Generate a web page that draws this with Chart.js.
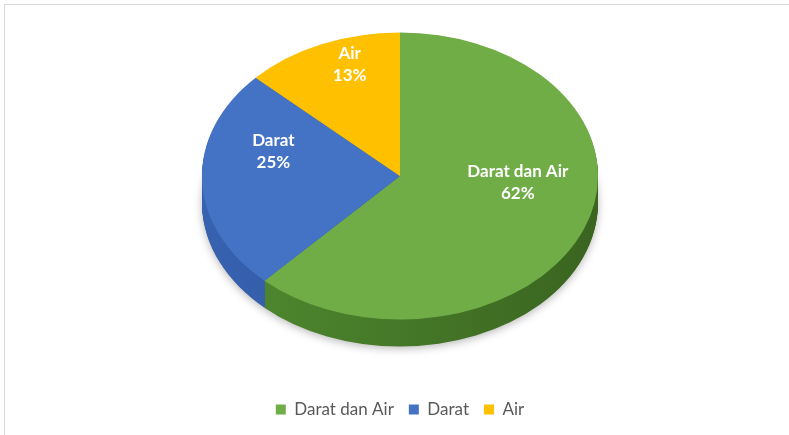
<!DOCTYPE html>
<html>
<head>
<meta charset="utf-8">
<script src="https://cdn.jsdelivr.net/npm/chart.js@4.4.0/dist/chart.umd.min.js"></script>
<style>
  html, body { margin: 0; padding: 0; background: #fff; }
  #wrap { position: relative; width: 789px; height: 435px; overflow: hidden; }
  #frame { position: absolute; left: 4px; top: 4px; right: -2px; bottom: -2px;
           border-top: 1px solid #d9d9d9; border-left: 1px solid #d9d9d9; }
  canvas { position: absolute; left: 0; top: 0; }
</style>
</head>
<body>
<div id="wrap">
  <div id="frame"></div>
  <canvas id="myChart" width="789" height="435"></canvas>
</div>
<script>
// data
const categories = ['Darat dan Air', 'Darat', 'Air'];
const shares = [62, 25, 13];

// colours
const topColors = ['#70ad47', '#4472c4', '#ffc000'];
const sideColors = [['#508c30', '#3a6420'], ['#3762b0', '#2b4f91'], ['#d9a300', '#b08400']];

// fake 3d look: squash the disc and give it some thickness
const tilt = { ratio: 0.725, centerY: 176, depth: 27 };

function tiltCtx(ctx, arc) {
    ctx.translate(arc.x, tilt.centerY);
    ctx.scale(1, tilt.ratio);
    ctx.translate(-arc.x, -arc.y);
}

const pie3d = {
    id: 'pie3d',
    beforeDatasetsDraw(chart) {
        const ctx = chart.ctx;
        const arcs = chart.getDatasetMeta(0).data;
        ctx.save();
        tiltCtx(ctx, arcs[0]);
        for (let d = tilt.depth; d >= 1; d--) {
            ctx.save();
            ctx.translate(0, d / tilt.ratio);
            if (d === tilt.depth) {
                ctx.shadowColor = 'rgba(0,0,0,0.28)';
                ctx.shadowBlur = 8;
                ctx.shadowOffsetY = 2;
            }
            arcs.forEach((a, i) => {
                const g = ctx.createLinearGradient(a.x - a.outerRadius, 0, a.x + a.outerRadius, 0);
                g.addColorStop(0, sideColors[i][0]);
                g.addColorStop(1, sideColors[i][1]);
                ctx.fillStyle = g;
                ctx.beginPath();
                ctx.moveTo(a.x, a.y);
                ctx.arc(a.x, a.y, a.outerRadius, a.startAngle, a.endAngle);
                ctx.closePath();
                ctx.fill();
            });
            ctx.restore();
        }
        // transform stays on while chart.js draws the top of the pie
    },
    afterDatasetsDraw(chart) {
        const ctx = chart.ctx;
        ctx.restore();
        const arcs = chart.getDatasetMeta(0).data;
        ctx.save();
        ctx.fillStyle = '#ffffff';
        ctx.font = 'bold 17px Lato';
        ctx.textAlign = 'center';
        ctx.textBaseline = 'middle';
        arcs.forEach((a, i) => {
            const mid = (a.startAngle + a.endAngle) / 2;
            const r = a.outerRadius * 0.64;
            const px = a.x + r * Math.cos(mid);
            const py = tilt.centerY + tilt.ratio * r * Math.sin(mid) - 27;
            ctx.fillText(categories[i], px, py - 11);
            ctx.fillText(shares[i] + '%', px, py + 11);
        });
        ctx.restore();
    }
};

Chart.defaults.font.family = 'Lato';
var ctx = document.getElementById('myChart').getContext('2d');
var myChart = new Chart(ctx, {
    type: 'pie',
    data: {
        labels: categories,
        datasets: [{
            data: shares,
            backgroundColor: topColors,
            borderWidth: 0,
            radius: 198,
            clip: false
        }]
    },
    options: {
        responsive: false,
        animation: false,
        layout: {
            padding: { left: 11, bottom: 7 }
        },
        plugins: {
            legend: {
                position: 'bottom',
                labels: {
                    boxWidth: 10,
                    boxHeight: 10,
                    padding: 15,
                    color: '#595959',
                    font: { size: 17 }
                }
            },
            tooltip: { enabled: false }
        }
    },
    plugins: [pie3d]
});
</script>
</body>
</html>
